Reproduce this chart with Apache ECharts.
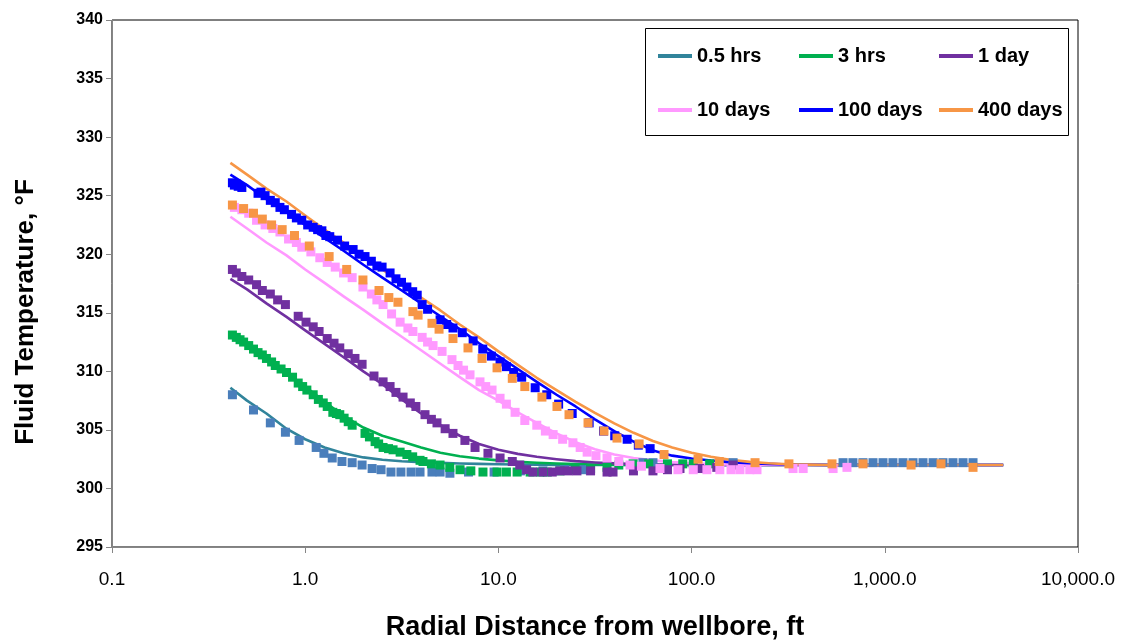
<!DOCTYPE html>
<html><head><meta charset="utf-8">
<script src="https://cdn.jsdelivr.net/npm/echarts@6/dist/echarts.min.js"></script>
<style>html,body{margin:0;padding:0;background:#fff}#c{width:1130px;height:643px}</style>
</head><body><div id="c"></div>
<script>
// ---- data ----
const lineNames = ['0.5 hrs', '3 hrs', '1 day', '10 days', '100 days', '400 days'];
const xLine = [0.41,0.5,0.63,0.8,1,1.26,1.58,2,2.51,3.16,3.98,5.01,6.31,7.94,10,12.6,15.8,20,25.1,31.6,39.8,50.1,63.1,79.4,100,126,158,200,251,316,398,501,1000,4100];
const yLine05h = [308.6,307.5,306.4,305.1,304.2,303.5,303.0,302.65,302.45,302.32,302.25,302.18,302.13,302.1,302.07,302.05,302.03,302.0,302.0,302.0,302.0,302.0,302.0,302.0,302.0,302.0,302.0,302.0,302.0,302.0,302.0,302.0,302.0,302.0];
const yLine3h  = [313.3,312.3,311.1,309.9,308.7,307.4,306.2,305.2,304.5,304.0,303.5,303.05,302.75,302.55,302.4,302.28,302.2,302.13,302.08,302.05,302.03,302.0,302.0,302.0,302.0,302.0,302.0,302.0,302.0,302.0,302.0,302.0,302.0,302.0];
const yLine1d  = [317.9,317.0,315.8,314.65,313.5,312.35,311.2,310.0,308.9,307.6,306.4,305.4,304.5,303.8,303.3,302.95,302.7,302.5,302.33,302.22,302.14,302.08,302.04,302.02,302.0,302.0,302.0,302.0,302.0,302.0,302.0,302.0,302.0,302.0];
const yLine10d = [323.2,322.2,321.0,319.9,318.7,317.55,316.4,315.25,314.1,312.95,311.8,310.65,309.5,308.4,307.5,306.5,305.6,304.7,303.95,303.35,302.9,302.6,302.4,302.25,302.15,302.08,302.04,302.0,302.0,302.0,302.0,302.0,302.0,302.0];
const yLine100d= [326.8,325.9,324.7,323.6,322.5,321.4,320.3,319.1,318.0,316.9,315.8,314.7,313.6,312.4,311.3,310.2,309.1,308.0,307.0,305.9,304.9,304.0,303.25,302.8,302.55,302.38,302.25,302.15,302.1,302.05,302.02,302.0,302.0,302.0];
const yLine400d= [327.8,326.8,325.6,324.5,323.3,322.1,321.0,319.8,318.7,317.5,316.3,315.2,314.0,312.9,311.7,310.55,309.45,308.4,307.4,306.45,305.55,304.75,304.05,303.5,303.05,302.7,302.45,302.27,302.15,302.07,302.03,302.0,302.0,302.0];

const pts05h = [[0.42,308.0],[0.54,306.7],[0.66,305.6],[0.79,304.8],[0.93,304.1],[1.14,303.5],[1.25,303.0],[1.38,302.6],[1.55,302.3],[1.75,302.2],[1.97,302.0],[2.22,301.7],[2.47,301.6],[2.78,301.4],[3.13,301.4],[3.53,301.4],[3.93,301.4],[4.53,301.4],[4.99,301.4],[5.61,301.3],[7,301.4],[9.5,301.4],[13,301.5],[17,301.5],[22,301.6],[27.4,301.6],[29.8,301.6],[56,302.2],[63.1,302.2],[164,302.2],[608,302.2],[684,302.2],[771,302.2],[869,302.2],[979,302.2],[1102,302.2],[1242,302.2],[1400,302.2],[1577,302.2],[1778,302.2],[2001,302.2],[2254,302.2],[2541,302.2],[2862,302.2]];
const pts3h = [[0.42,313.1],[0.44,312.9],[0.46,312.7],[0.48,312.5],[0.51,312.2],[0.54,311.9],[0.57,311.6],[0.6,311.4],[0.63,311.1],[0.67,310.8],[0.7,310.5],[0.75,310.2],[0.8,309.9],[0.86,309.5],[0.92,309.0],[0.97,308.7],[1.02,308.4],[1.1,308.0],[1.17,307.6],[1.24,307.3],[1.3,307.0],[1.39,306.5],[1.45,306.4],[1.51,306.3],[1.59,306.0],[1.67,305.7],[1.75,305.4],[2.04,304.7],[2.15,304.4],[2.3,304.0],[2.4,303.8],[2.53,303.5],[2.7,303.4],[2.85,303.3],[3.1,303.1],[3.36,302.9],[3.6,302.7],[3.93,302.4],[4.07,302.3],[4.5,302.1],[4.99,302.0],[5.6,301.8],[6.33,301.6],[7.2,301.5],[8.32,301.4],[9.84,301.4],[11,301.4],[12.5,301.4],[14.6,301.4],[16.4,301.4],[17.9,301.4],[20.8,301.5],[25,301.6],[30,301.7],[36.5,301.8],[42,302.0],[49.8,302.1],[60,302.1],[75,302.1],[90,302.1],[102,302.1],[124,302.1]];
const pts1d = [[0.42,318.7],[0.44,318.4],[0.47,318.1],[0.51,317.8],[0.56,317.4],[0.6,316.9],[0.66,316.6],[0.72,316.1],[0.79,315.7],[0.92,314.7],[1.01,314.2],[1.1,313.8],[1.18,313.4],[1.3,312.8],[1.41,312.4],[1.51,312.0],[1.67,311.5],[1.81,311.1],[1.97,310.6],[2.27,309.6],[2.53,309.1],[2.75,308.7],[2.95,308.2],[3.21,307.8],[3.5,307.3],[3.74,307.0],[4.17,306.3],[4.5,305.9],[4.81,305.6],[5.3,305.1],[5.82,304.7],[6.71,304.1],[7.57,303.5],[8.83,303.0],[10.2,302.6],[11.8,302.3],[12.9,302.0],[14,301.6],[15.1,301.4],[17,301.4],[19,301.4],[20.8,301.5],[23,301.5],[25.5,301.5],[30,301.5],[36.5,301.4],[39.2,301.4],[50,301.5],[63.1,301.5],[75,301.6],[87.1,301.7],[110,301.7],[135,301.8],[164,302.0]];
const pts10d = [[0.43,324.0],[0.47,323.8],[0.51,323.5],[0.56,322.9],[0.62,322.5],[0.68,322.2],[0.74,321.9],[0.82,321.3],[0.9,321.0],[0.96,320.6],[1.07,320.2],[1.19,319.7],[1.3,319.3],[1.43,318.9],[1.58,318.4],[1.75,318.0],[1.99,317.2],[2.2,316.6],[2.35,316.1],[2.53,315.7],[2.8,314.9],[3.1,314.2],[3.4,313.7],[3.61,313.4],[4.03,312.9],[4.3,312.5],[4.59,312.2],[5.11,311.7],[5.75,311.0],[6.18,310.5],[6.6,310.1],[7.13,309.7],[8.03,309.1],[8.6,308.7],[9.27,308.4],[10.2,307.7],[11,307.2],[12.2,306.5],[13.7,305.8],[15.8,305.4],[17.5,304.9],[19.2,304.6],[21.5,304.2],[24.3,303.9],[26.5,303.5],[28.8,303.1],[32,302.8],[36.5,302.6],[42,302.3],[48,302.0],[55,301.9],[68.6,301.7],[85,301.6],[102,301.6],[120,301.6],[140,301.6],[160,301.6],[178,301.6],[200,301.6],[218,301.6],[335,301.7],[378,301.7],[540,301.7],[637,301.8]];
const pts100d = [[0.42,326.1],[0.43,325.9],[0.44,326.0],[0.45,325.8],[0.47,325.7],[0.57,325.2],[0.59,325.3],[0.62,325.0],[0.66,324.6],[0.70,324.4],[0.74,324.0],[0.78,323.8],[0.85,323.4],[0.9,323.1],[0.96,322.9],[1.03,322.5],[1.1,322.3],[1.16,322.1],[1.22,322.0],[1.28,321.6],[1.34,321.5],[1.47,321.2],[1.6,320.7],[1.77,320.4],[1.9,320.0],[2.04,319.8],[2.2,319.4],[2.35,319.0],[2.5,318.9],[2.75,318.4],[2.95,317.9],[3.15,317.6],[3.36,317.2],[3.6,316.8],[3.8,316.5],[4.03,315.7],[4.3,315.3],[4.99,314.4],[5.4,314.0],[5.82,313.7],[6.5,313.3],[7.4,312.6],[8.3,311.9],[9.2,311.3],[10.2,310.8],[11.0,310.4],[12,309.9],[13.2,309.5],[15.5,308.6],[17.8,308.0],[20.5,307.2],[24.1,306.4],[29.5,305.6],[35,304.9],[40,304.5],[46.4,304.2],[53,303.7],[61,303.4]];
const pts400d = [[0.42,324.2],[0.48,323.9],[0.54,323.5],[0.60,323.0],[0.67,322.5],[0.76,322.1],[0.88,321.6],[1.05,320.7],[1.33,319.8],[1.64,318.7],[1.99,317.8],[2.41,316.9],[2.71,316.3],[3.02,315.9],[3.61,315.1],[3.84,314.8],[4.53,314.1],[4.93,313.6],[5.82,312.8],[6.96,312.0],[8.23,311.1],[9.84,310.3],[11.8,309.4],[13.7,308.7],[16.8,307.8],[20.1,307.0],[23.2,306.3],[29.1,305.6],[35.2,304.9],[41.1,304.3],[53.5,303.8],[72,302.9],[108,302.5],[139,302.3],[213,302.2],[319,302.1],[533,302.1],[771,302.1],[1368,302.0],[1954,302.1],[2862,301.8]];

const xTickLabels = {'0.1':'0.1','1':'1.0','10':'10.0','100':'100.0','1000':'1,000.0','10000':'10,000.0'};
const yTitle = 'Fluid Temperature, °F';
const xTitle = 'Radial Distance from wellbore, ft';

// ---- styling ----
const lineColors = ['#31849B','#00B050','#7030A0','#FF99FF','#0000FF','#F79646'];
const dotColors  = ['#4A7EBB','#00B050','#7030A0','#FF99FF','#0000FF','#F79646'];
const yLines = [yLine05h, yLine3h, yLine1d, yLine10d, yLine100d, yLine400d];
const pts = [pts05h, pts3h, pts1d, pts10d, pts100d, pts400d];

const series = [];
lineNames.forEach((n, i) => {
  series.push({
    name: n, type: 'line', data: xLine.map((x, k) => [x, yLines[i][k]]),
    smooth: false, showSymbol: false, symbol: 'none',
    lineStyle: { color: lineColors[i], width: 2.6, join: 'round' }, itemStyle: { color: lineColors[i] },
    z: 2, silent: true
  });
});
lineNames.forEach((n, i) => {
  series.push({
    name: n + ' data', type: 'scatter', data: pts[i], symbol: 'rect', symbolSize: 9,
    itemStyle: { color: dotColors[i], opacity: 1 }, z: 3, silent: true
  });
});

const legendText = { fontFamily: 'Liberation Sans, Arial, sans-serif', fontWeight: 'bold', fontSize: 20, color: '#000' };
function mkLegend(names, left) {
  return {
    data: names, left: left, top: 46, orient: 'vertical', itemGap: 34,
    itemWidth: 34, itemHeight: 4, icon: 'rect', textStyle: legendText,
    selectedMode: false, padding: 0
  };
}

const chart = echarts.init(document.getElementById('c'), null, { renderer: 'canvas' });
chart.setOption({
  animation: false,
  backgroundColor: '#fff',
  grid: { left: 112, right: 52, top: 20, bottom: 96, show: true, borderColor: '#000', borderWidth: 1, containLabel: false },
  legend: [mkLegend(['0.5 hrs','10 days'], 658), mkLegend(['3 hrs','100 days'], 799), mkLegend(['1 day','400 days'], 939)],
  graphic: [
    { type: 'rect', shape: { x: 645.5, y: 28.5, width: 423, height: 107 },
      style: { fill: 'none', stroke: '#000', lineWidth: 1 }, z: 10 },
    { type: 'text', x: 26, y: 312, rotation: Math.PI / 2,
      style: { text: yTitle, fill: '#000', font: 'bold 26px "Liberation Sans", Arial, sans-serif', textAlign: 'center', textVerticalAlign: 'middle' }, z: 10 },
    { type: 'text', x: 595, y: 628,
      style: { text: xTitle, fill: '#000', font: 'bold 27px "Liberation Sans", Arial, sans-serif', textAlign: 'center', textVerticalAlign: 'middle' }, z: 10 }
  ],
  xAxis: {
    type: 'log', logBase: 10, min: 0.1, max: 10000,
    axisLine: { show: true, lineStyle: { color: '#868686', width: 1 } },
    axisTick: { show: true, length: 6, lineStyle: { color: '#868686' } },
    minorTick: { show: false }, splitLine: { show: false },
    axisLabel: {
      margin: 23, color: '#000', fontSize: 19,
      fontFamily: 'Liberation Sans, Arial, sans-serif',
      formatter: v => { const k = String(Math.round(v * 10) / 10); return xTickLabels[k] !== undefined ? xTickLabels[k] : k; }
    }
  },
  yAxis: {
    type: 'value', min: 295, max: 340, interval: 5,
    axisLine: { show: true, lineStyle: { color: '#868686', width: 1 } },
    axisTick: { show: true, length: 6, lineStyle: { color: '#868686' } },
    splitLine: { show: false },
    axisLabel: { margin: 9, color: '#000', fontSize: 16, fontWeight: 'bold', fontFamily: 'Liberation Sans, Arial, sans-serif' }
  },
  series: series
});
</script>
</body></html>
